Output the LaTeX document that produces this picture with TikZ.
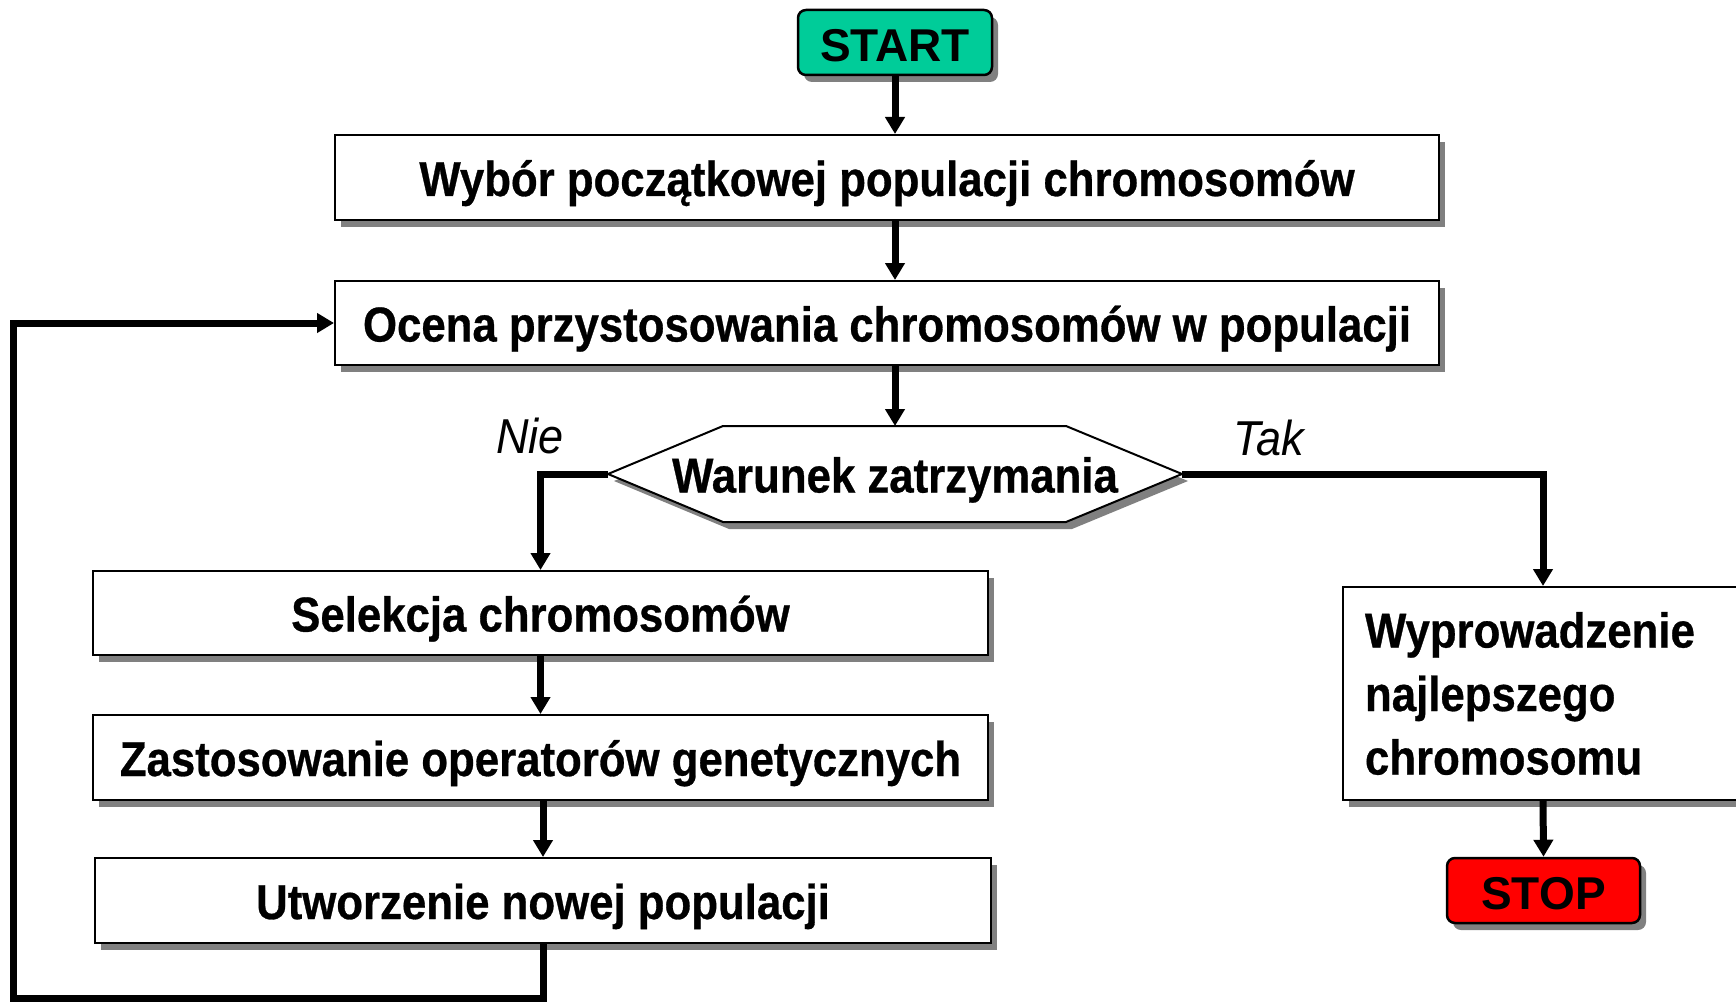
\documentclass[tikz,border=0pt]{standalone}
\usepackage{fontspec}
\setmainfont{Liberation Sans}
\newfontfamily\nfont{Liberation Sans}[FakeStretch=0.893,FakeBold=0.6]
\newfontfamily\ifont{Liberation Sans}[FakeStretch=0.92]
\usetikzlibrary{arrows.meta,shadows,calc}
\definecolor{startgreen}{HTML}{00CC99}
\definecolor{stopred}{HTML}{FF0000}
\definecolor{shadowgray}{HTML}{808080}
\begin{document}
\begin{tikzpicture}[x=1pt,y=-1pt,
  shad/.style={drop shadow={shadow xshift=6pt,shadow yshift=-7pt,fill=shadowgray,opacity=1}},
  box/.style={draw=black,line width=2pt,fill=white,shad,inner sep=0pt,font=\nfont\bfseries\fontsize{49}{63.5}\selectfont},
  onel/.style={text height=46pt,text depth=9pt},
  term/.style={draw=black,line width=2.5pt,rounded corners=8pt,shad,inner sep=0pt,text height=38pt,text depth=0pt,font=\bfseries\fontsize{46}{50}\selectfont},
  conn/.style={line width=7pt,-{Triangle[length=17pt,width=19pt]}},
  lbl/.style={font=\ifont\itshape\fontsize{49}{50}\selectfont,inner sep=0pt}]
\useasboundingbox[fill=white] (0,0) rectangle (1736,1003);

\node[term,fill=startgreen,minimum width=194pt,minimum height=65pt] (start) at (895,42.5) {START};
\node[box,onel,minimum width=1104pt,minimum height=85pt] (b1) at (887,177.5) {Wybór początkowej populacji chromosomów};
\node[box,onel,minimum width=1104pt,minimum height=84pt] (b2) at (887,323) {Ocena przystosowania chromosomów w populacji};

\path[draw=black,line width=2pt,fill=white,shad] (608,474) -- (723,426) -- (1066,426) -- (1182,474) -- (1066,522) -- (723,522) -- cycle;
\node[onel,inner sep=0pt,font=\nfont\bfseries\fontsize{49}{63.5}\selectfont] (hex) at (895,474) {Warunek zatrzymania};
\coordinate (hexL) at (608,474);
\coordinate (hexR) at (1182,474);
\coordinate (hexT) at (895,426);

\node[box,onel,minimum width=895pt,minimum height=84pt] (sel) at (540.5,613) {Selekcja chromosomów};
\node[box,onel,minimum width=895pt,minimum height=85pt] (zas) at (540.5,757.5) {Zastosowanie operatorów genetycznych};
\node[box,onel,minimum width=896pt,minimum height=85pt] (ut) at (543,900.5) {Utworzenie nowej populacji};

\node[box,align=left,text width=356pt,inner xsep=22pt,minimum width=400pt,minimum height=213pt] (wyp) at (1543,693.5) {Wyprowadzenie\\najlepszego\\chromosomu};
\node[term,fill=stopred,minimum width=193pt,minimum height=65pt] (stop) at (1543.5,890.5) {STOP};

\node[lbl,anchor=base west] (nie) at (496,453) {Nie};
\node[lbl,anchor=base west] (tak) at (1233,455) {Tak};

\coordinate (loopC) at (13,998);

\draw[conn] (start.south) -- (start.south |- b1.north);
\draw[conn] (start.south |- b1.south) -- (start.south |- b2.north);
\draw[conn] (start.south |- b2.south) -- (hexT);
\draw[conn] (hexL) -| (sel.north);
\draw[conn] (hexR) -| (wyp.north);
\draw[conn] (sel.south) -- (zas.north);
\draw[conn] (zas.south -| ut.north) -- (ut.north);
\draw[conn] (wyp.south) -- (stop.north);
\draw[conn] (ut.south) |- (loopC) |- (b2.west);
\end{tikzpicture}
\end{document}
